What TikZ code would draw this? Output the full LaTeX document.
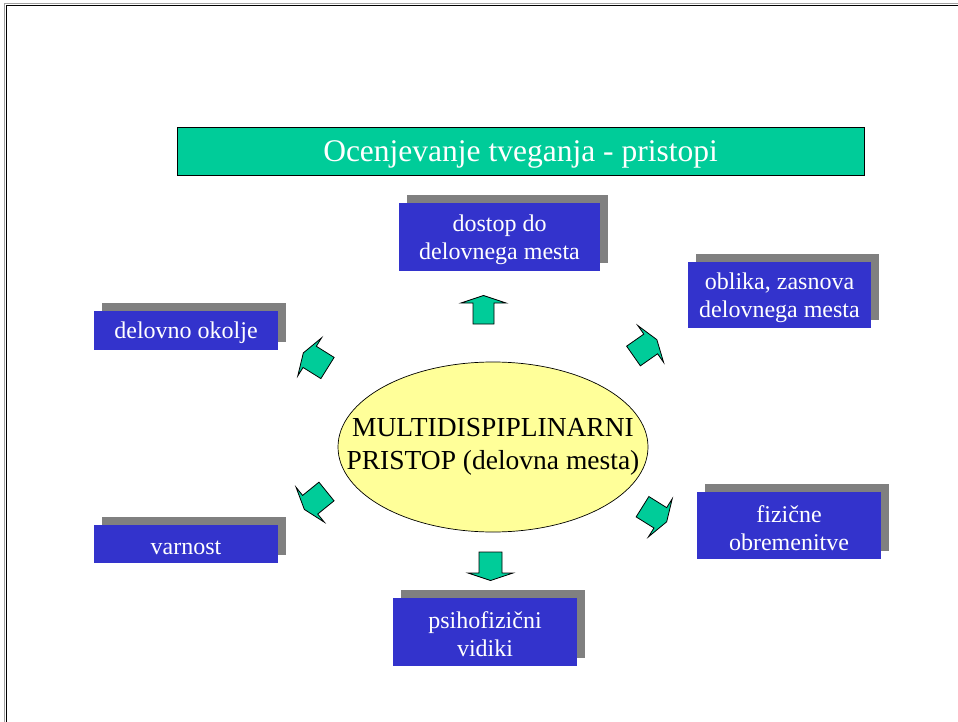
\documentclass[tikz,border=0pt]{standalone}
\usepackage{fontspec}
\setmainfont{Liberation Serif}
\usetikzlibrary{shadows,shapes.geometric}

\definecolor{titlegreen}{HTML}{00CC99}
\definecolor{boxblue}{HTML}{3333CC}
\definecolor{shadowgray}{HTML}{808080}
\definecolor{ovalyellow}{HTML}{FFFF99}
\definecolor{framegray}{HTML}{A0A0A0}

% invisible strut that lowers the first line of a box a little
\newcommand\firstlinestrut{\rule{0pt}{22pt}}

\tikzset{
  titlebox/.style={draw=black, line width=0.8pt, fill=titlegreen, text=white,
    minimum width=687pt, minimum height=48pt, inner sep=0pt,
    font=\fontsize{31.5}{34}\selectfont},
  topicbox/.style={fill=boxblue, text=white, align=center, inner sep=0pt,
    font=\fontsize{24}{28}\selectfont,
    drop shadow={shadow xshift=8pt, shadow yshift=8pt, fill=shadowgray, opacity=1}},
  centeroval/.style={ellipse, draw=black, line width=0.7pt, fill=ovalyellow,
    minimum width=310pt, minimum height=170pt, inner xsep=-80pt, inner ysep=-10pt,
    align=center, font=\fontsize{27.5}{33}\selectfont},
  arrowbody/.style={draw=black, line width=0.8pt, fill=titlegreen, line join=miter},
  slideframe/.style={draw=black, line width=1.8pt},
  frameedge/.style={draw=framegray, line width=1pt}
}

% block arrow: #1 centre of the shaft's back end, #2 direction, #3 shaft half width
\newcommand\blockarrow[3]{%
  \draw[arrowbody, shift={#1}, rotate=#2]
    (0,-#3) -- (21,-#3) -- (21,-22.5) -- (28.5,0) -- (21,22.5) -- (21,#3) -- (0,#3) -- cycle;}

\begin{document}
\begin{tikzpicture}[x=1pt, y=-1pt]
  \useasboundingbox[fill=white] (0,0) rectangle (958,722);

  % slide frame
  \draw[frameedge] (4.5,722) -- (4.5,3.5) -- (958,3.5);
  \draw[slideframe] (6.5,722) -- (6.5,5.5) -- (958,5.5);

  % heading
  \node[titlebox] (title) at (520.5,151) {\rule{0pt}{28pt}Ocenjevanje tveganja - pristopi};

  % centre
  \node[centeroval] (core) at (493,447) {MULTIDISPIPLINARNI\\PRISTOP (delovna mesta)};

  % surrounding topics
  \node[topicbox, minimum width=201pt, minimum height=68pt] (dostop) at (499.5,237)
    {\firstlinestrut dostop do\\delovnega mesta};
  \node[topicbox, minimum width=183pt, minimum height=66pt] (oblika) at (779.5,295)
    {\firstlinestrut oblika, zasnova\\delovnega mesta};
  \node[topicbox, minimum width=184pt, minimum height=39pt] (okolje) at (186,330.5)
    {\firstlinestrut delovno okolje};
  \node[topicbox, minimum width=184pt, minimum height=38pt] (varnost) at (186,544)
    {\firstlinestrut varnost};
  \node[topicbox, minimum width=184pt, minimum height=67pt] (fizicne) at (789,525.5)
    {\firstlinestrut fizične\\obremenitve};
  \node[topicbox, minimum width=184pt, minimum height=68pt] (psiho) at (485,632)
    {\firstlinestrut psihofizični\\vidiki};

  % arrows pointing out from the centre
  \blockarrow{(483.5,324)}{90}{10.5}
  \blockarrow{(490.5,552)}{270}{11.5}
  \blockarrow{(327.5,368)}{148}{12.5}
  \blockarrow{(633.5,356)}{35}{12}
  \blockarrow{(326.5,491.5)}{219}{12}
  \blockarrow{(642.5,506.7)}{-32}{12}
\end{tikzpicture}
\end{document}
